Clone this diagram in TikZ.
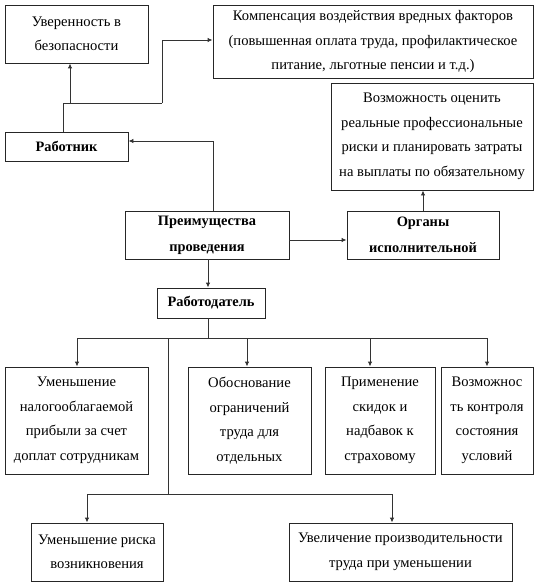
\documentclass[tikz,border=0pt]{standalone}
\usepackage{fontspec}
\setmainfont{Liberation Serif}
\usetikzlibrary{arrows.meta}
\begin{document}
\begin{tikzpicture}[x=1pt,y=-1pt,
  box/.style={draw=black!85,line width=0.9pt,inner sep=0pt,align=center,
    font=\fontsize{14.6}{24.5}\selectfont},
  bbox/.style={box,font=\fontsize{14.4}{26}\selectfont\bfseries},
  arr/.style={draw=black!80,line width=0.9pt,-{Latex[length=5pt,width=4.5pt]}},
  ln/.style={draw=black!80,line width=0.9pt}]
\useasboundingbox (0,0) rectangle (538,586);
% top
\node[box,minimum width=143pt,minimum height=58pt] (b1) at (76.5,34) {Уверенность в\\безопасности};
\node[box,minimum width=320pt,minimum height=73pt] (b2) at (373,41.5) {Компенсация воздействия вредных факторов\\(повышенная оплата труда, профилактическое\\питание, льготные пенсии и т.д.)};
\node[box,minimum width=202pt,minimum height=107pt] (b3) at (432,136.5) {Возможность оценить\\реальные профессиональные\\риски и планировать затраты\\на выплаты по обязательному};
\node[bbox,minimum width=123pt,minimum height=29pt] (rab) at (66.5,146.5) {Работник};
\node[bbox,minimum width=164pt,minimum height=48pt] (pre) at (207,235) {Преимущества\\проведения};
\node[bbox,minimum width=152pt,minimum height=48pt] (org) at (423,235) {Органы\\исполнительной};
\node[bbox,minimum width=108pt,minimum height=30pt] (rd) at (211,303) {Работодатель};
% row
\node[box,minimum width=143pt,minimum height=107pt] (A) at (76.5,420.5) {Уменьшение\\налогооблагаемой\\прибыли за счет\\доплат сотрудникам};
\node[box,minimum width=123pt,minimum height=107pt] (B) at (249.5,420.5) {Обоснование\\ограничений\\труда для\\отдельных};
\node[box,minimum width=110pt,minimum height=107pt] (C) at (380,420.5) {Применение\\скидок и\\надбавок к\\страховому};
\node[box,minimum width=92pt,minimum height=107pt] (D) at (487,420.5) {Возможнос\\ть контроля\\состояния\\условий};
% bottom
\node[box,minimum width=132pt,minimum height=58pt] (E) at (97,552) {Уменьшение риска\\возникновения};
\node[box,minimum width=223pt,minimum height=58pt] (F) at (400.5,552) {Увеличение производительности\\труда при уменьшении};
% junctions
\coordinate (j1) at (63,103);
\coordinate (j2) at (70,103);
\coordinate (j3) at (162,103);
\coordinate (pn) at (213,211);
\coordinate (bus) at (208,338);
\coordinate (busL) at (77,338);
\coordinate (busR) at (487,338);
\coordinate (tB) at (247,338);
\coordinate (tC) at (370,338);
\coordinate (k1) at (168,338);
\coordinate (k2) at (168,494);
\coordinate (kL) at (87,494);
\coordinate (kR) at (392,494);
% connectors
\draw[arr] (pn) |- ([yshift=5.5pt]rab.east);
\draw[ln] (rab.north -| j1) -- (j1) -- (j3);
\draw[arr] (j2) -- (j2 |- b1.south);
\draw[arr] (j3) |- ([yshift=1.5pt]b2.west);
\draw[arr] ([yshift=-5pt]pre.east) -- ([yshift=-5pt]pre.east -| org.west);
\draw[arr] (org.north) -- (org.north |- b3.south);
\draw[arr] (pre.south -| bus) -- (rd.north -| bus);
\draw[ln] (rd.south -| bus) -- (bus);
\draw[ln] (busL) -- (busR);
\draw[arr] (busL) -- (busL |- A.north);
\draw[arr] (tB) -- (tB |- B.north);
\draw[arr] (tC) -- (tC |- C.north);
\draw[arr] (busR) -- (busR |- D.north);
\draw[ln] (k1) -- (k2);
\draw[ln] (kL) -- (kR);
\draw[arr] (kL) -- (kL |- E.north);
\draw[arr] (kR) -- (kR |- F.north);
\end{tikzpicture}
\end{document}
